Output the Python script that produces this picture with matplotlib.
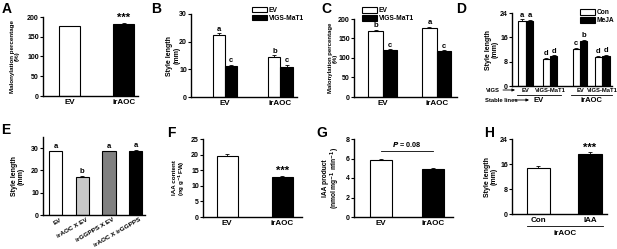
import matplotlib
matplotlib.use('Agg')
import matplotlib.pyplot as plt
from matplotlib.patches import Patch
import numpy as np

plt.rcParams['font.family'] = ['Liberation Sans', 'DejaVu Sans']
plt.rcParams['font.weight'] = 'bold'
plt.rcParams['axes.labelweight'] = 'bold'

# ---- data ----
a_groups = ['EV', 'irAOC']
a_vals = [176, 183]
a_err = [1.5, 1.0]

b_groups = ['EV', 'irAOC']
b_ev = [22.5, 14.5]
b_ev_err = [0.5, 0.5]
b_mat1 = [11.2, 11.0]
b_mat1_err = [0.5, 0.6]
b_let_ev = ['a', 'b']
b_let_mat1 = ['c', 'c']

c_groups = ['EV', 'irAOC']
c_ev = [170, 178]
c_ev_err = [2, 2]
c_mat1 = [120, 118]
c_mat1_err = [2, 2]
c_let_ev = ['b', 'a']
c_let_mat1 = ['c', 'c']

d_vigs = ['EV', 'VIGS-MaT1', 'EV', 'VIGS-MaT1']
d_stable = ['EV', 'irAOC']
d_con = [21.5, 9.0, 12.2, 9.6]
d_con_err = [0.4, 0.3, 0.4, 0.3]
d_meja = [21.5, 9.8, 14.8, 10.0]
d_meja_err = [0.3, 0.3, 0.4, 0.3]
d_let_con = ['a', 'd', 'c', 'd']
d_let_meja = ['a', 'd', 'b', 'd']

e_lines = ['EV', 'irAOC X EV', 'irGGPPS X EV', 'irAOC X irGGPPS']
e_vals = [28.5, 17.2, 28.5, 28.7]
e_err = [0.3, 0.4, 0.3, 0.5]
e_let = ['a', 'b', 'a', 'a']
e_colors = ['white', '#c8c8c8', '#808080', 'black']

f_groups = ['EV', 'irAOC']
f_vals = [19.5, 12.8]
f_err = [0.8, 0.4]

g_groups = ['EV', 'irAOC']
g_vals = [5.8, 4.95]
g_err = [0.2, 0.05]
g_p = '0.08'

h_groups = ['Con', 'IAA']
h_vals = [14.8, 19.3]
h_err = [0.5, 0.4]

W, H = 617, 249
fig = plt.figure(figsize=(W / 100, H / 100), dpi=100)


def box(x0, y0, x1, y1):
    return fig.add_axes([x0 / W, 1 - y1 / H, (x1 - x0) / W, (y1 - y0) / H])


def fp(x, y):
    return (x / W, 1 - y / H)


def style(ax, ylim, yticks, xlim, ylabel, lab_x, lab_fs=5):
    for s in ['top', 'right']:
        ax.spines[s].set_visible(False)
    for s in ['left', 'bottom']:
        ax.spines[s].set_linewidth(1.0)
    ax.set_ylim(*ylim)
    ax.set_yticks(yticks)
    ax.set_xlim(*xlim)
    ax.tick_params(axis='y', length=2, width=0.8, pad=1, labelsize=5)
    ax.tick_params(axis='x', length=0, pad=2, labelsize=5.8)
    ax.set_ylabel(ylabel, fontsize=lab_fs, linespacing=1.0)
    ax.yaxis.set_label_coords(lab_x, 0.5)


def bars(ax, x, vals, err, color, width):
    ax.bar(x, vals, width, color=color, edgecolor='black', linewidth=0.8, zorder=2)
    ax.errorbar(x, vals, yerr=[np.zeros(len(vals)), err], fmt='none',
                ecolor='black', elinewidth=0.6, capsize=1.2, capthick=0.6, zorder=3)


def letters(ax, x, vals, err, labs, fs=5.5):
    for xi, v, e, t in zip(x, vals, err, labs):
        ax.annotate(t, (xi, v + e), xytext=(0, 0.5), textcoords='offset points',
                    ha='center', va='bottom', fontsize=fs)


def panel(letter, x, y):
    fig.text(*fp(x, y), letter, fontsize=10, fontweight='bold', va='top', ha='left')


leg_kw = dict(frameon=False, fontsize=4.8, handlelength=2.2, handleheight=0.9,
              handletextpad=0.3, labelspacing=0.15, borderpad=0, borderaxespad=0,
              loc='upper left')
white_p = Patch(facecolor='white', edgecolor='black', linewidth=0.8)
black_p = Patch(facecolor='black', edgecolor='black', linewidth=0.8)

# ---- A ----
ax = box(43, 17, 138, 96)
x = np.arange(len(a_groups))
bars(ax, x, a_vals, a_err, ['white', 'black'], 0.39)
style(ax, (0, 200), [0, 50, 100, 150, 200], (-0.49, 1.26),
      'Malonylation percentage\n(%)', -0.24, 4.5)
ax.set_xticks(x, a_groups)
ax.annotate('***', (1, a_vals[1] + a_err[1]), xytext=(0, 0), textcoords='offset points',
            ha='center', va='bottom', fontsize=8)
panel('A', 2, 2)

# ---- B ----
ax = box(191, 14, 297, 97)
x = np.arange(len(b_groups))
w = 0.22
bars(ax, x - w / 2, b_ev, b_ev_err, 'white', w)
bars(ax, x + w / 2, b_mat1, b_mat1_err, 'black', w)
letters(ax, x - w / 2, b_ev, b_ev_err, b_let_ev)
letters(ax, x + w / 2, b_mat1, b_mat1_err, b_let_mat1)
style(ax, (0, 30), [0, 10, 20, 30], (-0.62, 1.30), 'Style length\n(mm)', -0.1)
ax.set_xticks(x, b_groups)
ax.legend([white_p, black_p], ['EV', 'VIGS-MaT1'], bbox_to_anchor=(0.575, 1.09), **leg_kw)
panel('B', 151, 2)

# ---- C ----
ax = box(354, 19, 457, 97)
x = np.arange(len(c_groups))
w = 0.27
bars(ax, x - w / 2, c_ev, c_ev_err, 'white', w)
bars(ax, x + w / 2, c_mat1, c_mat1_err, 'black', w)
letters(ax, x - w / 2, c_ev, c_ev_err, c_let_ev)
letters(ax, x + w / 2, c_mat1, c_mat1_err, c_let_mat1)
style(ax, (0, 200), [0, 50, 100, 150, 200], (-0.535, 1.375),
      'Malonylation percentage\n(%)', -0.155, 4.3)
ax.set_xticks(x, c_groups)
ax.legend([white_p, black_p], ['EV', 'VIGS-MaT1'], bbox_to_anchor=(0.08, 1.15), **leg_kw)
panel('C', 321, 2)

# ---- D ----
ax = box(512, 13, 612, 86)
x = np.array([0, 1, 2.25, 3.17])
w = 0.31
bars(ax, x - w / 2, d_con, d_con_err, 'white', w)
bars(ax, x + w / 2, d_meja, d_meja_err, 'black', w)
letters(ax, x - w / 2, d_con, d_con_err, d_let_con)
letters(ax, x + w / 2, d_meja, d_meja_err, d_let_meja)
style(ax, (0, 24), [0, 8, 16, 24], (-0.58, 3.58), 'Style length\n(mm)', -0.13)
ax.set_xticks(x, d_vigs)
ax.tick_params(axis='x', labelsize=4.2, pad=1.5)
ax.legend([white_p, black_p], ['Con', 'MeJA'], bbox_to_anchor=(0.68, 1.05), **leg_kw)
fig.text(*fp(486, 90), 'VIGS', fontsize=4.2, va='center', ha='left')
ax.annotate('', xy=fp(515, 90), xytext=fp(503, 90), xycoords='figure fraction',
            arrowprops=dict(arrowstyle='-|>', lw=0.6, color='black',
                            mutation_scale=4, shrinkA=0, shrinkB=0))
fig.text(*fp(485, 100), 'Stable lines', fontsize=4.2, va='center', ha='left')
ax.annotate('', xy=fp(529, 100), xytext=fp(514, 100), xycoords='figure fraction',
            arrowprops=dict(arrowstyle='-|>', lw=0.6, color='black',
                            mutation_scale=4, shrinkA=0, shrinkB=0))
fig.text(*fp(533, 100), d_stable[0], fontsize=5.5, va='center', ha='left')
fig.text(*fp(591, 100), d_stable[1], fontsize=5.5, va='center', ha='center')
for x0, x1 in [(517, 561), (571, 612)]:
    fig.add_artist(plt.Line2D([x0 / W, x1 / W], [1 - 95 / H, 1 - 95 / H],
                              color='black', lw=0.6))
panel('D', 456, 2)

# ---- E ----
ax = box(43, 137, 145, 215)
x = np.arange(len(e_lines))
bars(ax, x, e_vals, e_err, e_colors, 0.5)
letters(ax, x, e_vals, e_err, e_let)
style(ax, (0, 35), [0, 10, 20, 30], (-0.47, 3.35), 'Style length\n(mm)', -0.18)
ax.set_xticks(x + 0.15, e_lines, rotation=30, ha='right', rotation_mode='anchor')
ax.tick_params(axis='x', labelsize=4.6, pad=1.5)
panel('E', 1, 123)

# ---- F ----
ax = box(203, 139, 302, 217)
x = np.arange(len(f_groups))
bars(ax, x, f_vals, f_err, ['white', 'black'], 0.38)
style(ax, (0, 25), [0, 5, 10, 15, 20, 25], (-0.44, 1.36),
      'IAA content\n(ng g$^{-1}$FW)', -0.16, 4.5)
ax.set_xticks(x, f_groups)
ax.annotate('***', (1, f_vals[1] + f_err[1]), xytext=(0, 0), textcoords='offset points',
            ha='center', va='bottom', fontsize=8)
panel('F', 167, 126)

# ---- G ----
ax = box(354, 139, 453, 217)
x = np.arange(len(g_groups))
bars(ax, x, g_vals, g_err, ['white', 'black'], 0.42)
style(ax, (0, 8), [0, 2, 4, 6, 8], (-0.52, 1.38),
      'IAA product\n(nmol mg$^{-1}$ min$^{-1}$)', -0.12, 4.8)
ax.set_xticks(x, g_groups)
ax.plot([0, 1], [6.8, 6.8], color='black', lw=0.6, clip_on=False)
ax.text(0.5, 6.95, '$\\mathbfit{P}$ = ' + g_p, ha='center', va='bottom', fontsize=5.2)
panel('G', 316, 126)

# ---- H ----
ax = box(512, 139, 607, 214)
x = np.arange(len(h_groups))
bars(ax, x, h_vals, h_err, ['white', 'black'], 0.45)
style(ax, (0, 24), [0, 8, 16, 24], (-0.51, 1.33), 'Style length\n(mm)', -0.15)
ax.set_xticks(x, h_groups)
ax.annotate('***', (1, h_vals[1] + h_err[1]), xytext=(0, 0), textcoords='offset points',
            ha='center', va='bottom', fontsize=8)
fig.add_artist(plt.Line2D([527 / W, 603 / W], [1 - 226 / H, 1 - 226 / H],
                          color='black', lw=0.6))
fig.text(*fp(565, 233), 'irAOC', fontsize=5.8, va='center', ha='center')
panel('H', 484, 126)

fig.savefig('out.png', dpi=100)
